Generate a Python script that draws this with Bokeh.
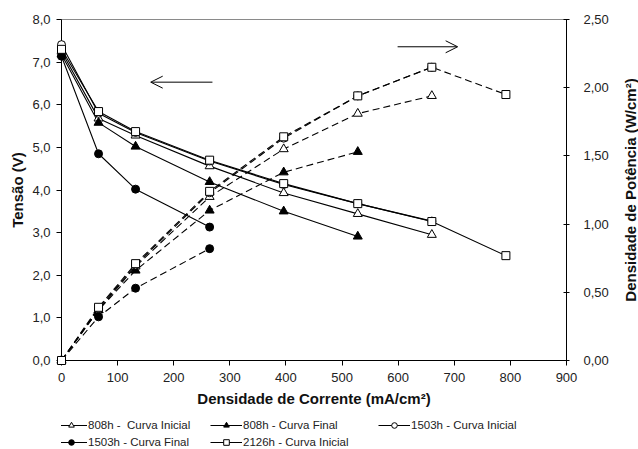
import math
from bokeh.plotting import figure
from bokeh.layouts import column, row
from bokeh.models import (Range1d, LinearAxis, FixedTicker, Legend, LegendItem,
                          Arrow, OpenHead, Label)
from bokeh.embed import file_html
from bokeh.resources import INLINE

# ---------------- data ----------------
current = [0, 66, 132, 264, 396, 528, 660, 792]  # mA/cm2

v_808_ini = [7.25, 5.68, 5.28, 4.56, 3.93, 3.44, 2.95]
v_808_fin = [7.18, 5.58, 5.02, 4.19, 3.50, 2.91]
v_1503_ini = [7.41, 5.80, 5.35, 4.68, 4.13, 3.68, 3.27]
v_1503_fin = [7.14, 4.85, 4.02, 3.13]
v_2126_ini = [7.30, 5.84, 5.37, 4.70, 4.15, 3.68, 3.26, 2.46]

p_808_ini = [0.00, 0.37, 0.69, 1.20, 1.55, 1.81, 1.94]
p_808_fin = [0.00, 0.37, 0.66, 1.10, 1.38, 1.53]
p_1503_ini = [0.00, 0.38, 0.70, 1.23, 1.63, 1.94, 2.15]
p_1503_fin = [0.00, 0.32, 0.53, 0.82]
p_2126_ini = [0.00, 0.39, 0.71, 1.24, 1.64, 1.94, 2.15, 1.95]

labels = ["808h -  Curva Inicial", "808h - Curva Final", "1503h - Curva Inicial",
          "1503h - Curva Final", "2126h - Curva Inicial"]

x_ticks = [0, 100, 200, 300, 400, 500, 600, 700, 800, 900]
v_ticks = [0, 1, 2, 3, 4, 5, 6, 7, 8]
v_tick_labels = ["0,0", "1,0", "2,0", "3,0", "4,0", "5,0", "6,0", "7,0", "8,0"]
p_ticks = [0, 0.5, 1.0, 1.5, 2.0, 2.5]
p_tick_labels = ["0,00", "0,50", "1,00", "1,50", "2,00", "2,50"]

x_title = "Densidade de Corrente (mA/cm²)"
y_title = "Tensão (V)"
y2_title = "Densidade de Potência (W/cm²)"

FONT = "Liberation Sans"

# ---------------- main figure ----------------
p = figure(width=621, height=417, x_range=Range1d(0, 900), y_range=Range1d(0, 8),
           output_backend="svg", toolbar_location=None,
           min_border_left=61, min_border_right=55, min_border_top=19,
           min_border_bottom=57)
p.extra_y_ranges = {"pot": Range1d(0, 2.5)}
p.xgrid.visible = False
p.ygrid.visible = False
p.outline_line_color = "#8a8a8a"
p.outline_line_width = 1
p.background_fill_color = "white"
p.border_fill_color = "white"

def style_axis(ax, labels_map=None):
    ax.axis_line_color = "black"
    ax.axis_line_width = 1
    ax.major_tick_line_color = "black"
    ax.minor_tick_line_color = None
    ax.major_label_text_font = FONT
    ax.major_label_text_font_size = "13px"
    ax.major_label_text_color = "#222222"
    ax.axis_label_text_font = FONT
    ax.axis_label_text_font_size = "15px"
    ax.axis_label_text_font_style = "bold"
    ax.axis_label_text_color = "#111111"
    if labels_map:
        ax.major_label_overrides = labels_map

xa = p.xaxis[0]
xa.ticker = FixedTicker(ticks=x_ticks)
style_axis(xa)
xa.major_tick_out = 5
xa.major_tick_in = 0
xa.major_label_standoff = 7
xa.axis_label = x_title
xa.axis_label_standoff = 5

ya = p.yaxis[0]
ya.ticker = FixedTicker(ticks=v_ticks)
style_axis(ya, dict(zip(v_ticks, v_tick_labels)))
ya.major_tick_out = 5
ya.major_tick_in = 0
ya.major_label_standoff = 6
ya.axis_label = y_title
ya.axis_label_standoff = 3

ra = LinearAxis(y_range_name="pot", ticker=FixedTicker(ticks=p_ticks))
style_axis(ra, dict(zip(p_ticks, p_tick_labels)))
ra.major_tick_out = 3
ra.major_tick_in = 3
ra.major_label_standoff = 14
p.add_layout(ra, "right")

# ---------------- series ----------------
series = [
    (labels[0], v_808_ini, p_808_ini, "triangle", "white", 9),
    (labels[1], v_808_fin, p_808_fin, "triangle", "black", 9),
    (labels[2], v_1503_ini, p_1503_ini, "circle", "white", 8),
    (labels[3], v_1503_fin, p_1503_fin, "circle", "black", 8),
    (labels[4], v_2126_ini, p_2126_ini, "square", "white", 8),
]

for lab, v, pw, mk, fill, sz in series:
    xs_v = current[:len(v)]
    xs_p = current[:len(pw)]
    p.line(xs_v, v, line_color="black", line_width=1.1)
    p.line(xs_p, pw, y_range_name="pot", line_color="black", line_width=1.1,
           line_dash="7 4")

for lab, v, pw, mk, fill, sz in series:
    xs_v = current[:len(v)]
    xs_p = current[:len(pw)]
    p.scatter(xs_v, v, marker=mk, size=sz, fill_color=fill,
              line_color="black", line_width=1, level="overlay")
    p.scatter(xs_p, pw, y_range_name="pot", marker=mk, size=sz, fill_color=fill,
              line_color="black", line_width=1, level="overlay")

# ---------------- arrows ----------------
p.add_layout(Arrow(end=OpenHead(size=12, line_color="black", line_width=1),
                   x_start=269, y_start=6.53, x_end=159, y_end=6.53,
                   line_color="black", line_width=1))
p.add_layout(Arrow(end=OpenHead(size=12, line_color="black", line_width=1),
                   x_start=599, y_start=2.30, x_end=706, y_end=2.30,
                   y_range_name="pot", line_color="black", line_width=1))

# ---------------- legend strip ----------------
# same series drawn out of view (y range far away); only the legend shows
lgf = figure(width=621, height=32, x_range=Range1d(0, 900), y_range=Range1d(-100, -99),
             output_backend="svg", toolbar_location=None,
             x_axis_type=None, y_axis_type=None,
             min_border_left=61, min_border_right=55, min_border_top=0,
             min_border_bottom=0)
lgf.xgrid.visible = False
lgf.ygrid.visible = False
lgf.outline_line_color = None
lgf.background_fill_color = "white"
lgf.border_fill_color = "white"

proxy = {}
for lab, v, pw, mk, fill, sz in series:
    xs_v = current[:len(v)]
    lr = lgf.line(xs_v, v, line_color="black", line_width=1.1)
    sr = lgf.scatter(xs_v, v, marker=mk, size=sz, fill_color=fill,
                     line_color="black", line_width=1)
    proxy[lab] = [lr, sr]

columns = [
    ([labels[0], labels[3]], (-6, 0)),
    ([labels[1], labels[4]], (149, 0)),
    ([labels[2]], (317, 17)),
]
for labs, loc in columns:
    items = [LegendItem(label=l, renderers=proxy[l]) for l in labs]
    lg = Legend(items=items, location=loc, orientation="vertical",
                glyph_width=32, glyph_height=14, label_height=14,
                label_standoff=1, spacing=3, padding=0, margin=0,
                border_line_alpha=0, background_fill_alpha=0,
                label_text_font=FONT, label_text_font_size="11.5px",
                label_text_color="#222222")
    lgf.add_layout(lg)

# ---------------- right-axis title strip (reads bottom-to-top) ----------------
tf = figure(width=17, height=449, x_range=Range1d(0, 1), y_range=Range1d(0, 8),
            output_backend="svg", toolbar_location=None,
            x_axis_type=None, y_axis_type=None,
            min_border_left=0, min_border_right=0, min_border_top=19,
            min_border_bottom=89)
tf.xgrid.visible = False
tf.ygrid.visible = False
tf.outline_line_color = None
tf.background_fill_color = "white"
tf.border_fill_color = "white"
tf.add_layout(Label(x=0.5, y=4.0, text=y2_title, angle=math.pi / 2,
                    text_align="center", text_baseline="middle",
                    text_font=FONT, text_font_size="15px", text_font_style="bold",
                    text_color="#111111"))

layout = row(column(p, lgf, spacing=0), tf, spacing=0)
open("out.html", "w").write(file_html(layout, INLINE))
